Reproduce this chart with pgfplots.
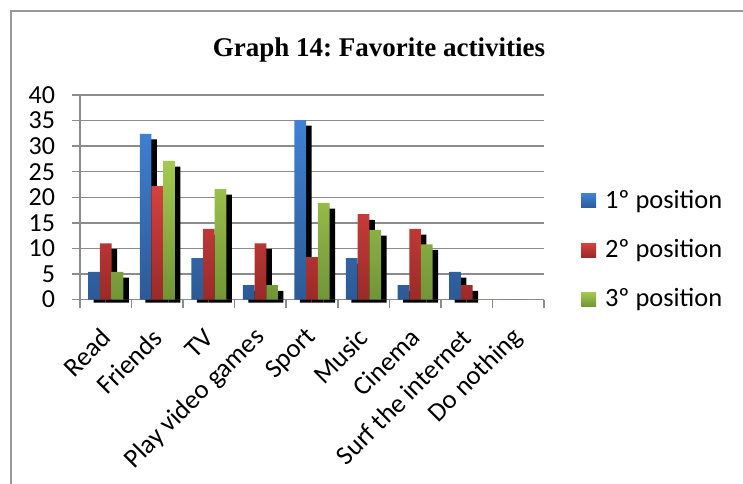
\documentclass[border=0pt]{standalone}
\usepackage{pgfplots}
\pgfplotsset{compat=1.18}
\usepackage{pgfplotstable}
\usepackage{fontspec}
\setmainfont{Carlito}
\newfontfamily\titlefont{Liberation Serif}
\definecolor{bluetop}{HTML}{3F82D4}
\definecolor{bluebot}{HTML}{2C5A96}
\definecolor{redtop}{HTML}{D4423E}
\definecolor{redbot}{HTML}{9A2A28}
\definecolor{greentop}{HTML}{A4CA50}
\definecolor{greenbot}{HTML}{719437}
\definecolor{gridgray}{HTML}{8C8C8C}
\definecolor{framegray}{HTML}{999999}

% values and shadow heights (value - 1.1), strip under the baseline (-0.6)
\pgfplotstableread{
x blue red green bs rs gs bst rst gst
0 5.4 11.0 5.4 4.3 9.9 4.3 -0.6 -0.6 -0.6
1 32.4 22.2 27.1 31.3 21.1 26.0 -0.6 -0.6 -0.6
2 8.1 13.8 21.6 7.0 12.7 20.5 -0.6 -0.6 -0.6
3 2.8 11.0 2.8 1.7 9.9 1.7 -0.6 -0.6 -0.6
4 35.1 8.3 18.9 34.0 7.2 17.8 -0.6 -0.6 -0.6
5 8.1 16.7 13.6 7.0 15.6 12.5 -0.6 -0.6 -0.6
6 2.8 13.8 10.8 1.7 12.7 9.7 -0.6 -0.6 -0.6
7 5.4 2.8 0 4.3 1.7 nan -0.6 -0.6 nan
8 0 0 0 nan nan nan nan nan nan
}\datatable

\begin{document}
\frenchspacing
\begin{tikzpicture}
\useasboundingbox (0pt,0pt) rectangle (371.5pt,241.5pt);
\draw[color=framegray, line width=0.75pt] (5.5pt,-5pt) -- (5.5pt,236pt) -- (380pt,236pt);
\node[anchor=base, font=\titlefont\bfseries\fontsize{13.5}{16}\selectfont] at (189.5pt,213pt) {Graph 14: Favorite activities};
\begin{axis}[
  at={(40pt,91.75pt)}, anchor=south west,
  scale only axis, width=232pt, height=102.25pt,
  ybar, bar width=5.85pt,
  xmin=-0.5, xmax=8.5, ymin=0, ymax=40, enlargelimits=false,
  ytick={0,5,...,40},
  xtick={-0.5,0.5,...,8.5}, xticklabels={},
  extra x ticks={0,1,2,3,4,5,6,7,8},
  extra x tick labels={Read,Friends,TV,Play video games,Sport,Music,Cinema,Surf the internet,Do nothing},
  extra x tick style={major tick length=0pt},
  xticklabel style={yshift=-14.5pt, xshift=2.5pt, rotate=45, anchor=east, font=\fontsize{13.3}{15}\selectfont},
  yticklabel style={font=\fontsize{13}{15}\selectfont, xshift=-5pt},
  /pgf/number format/assume math mode=true,
  axis x line*=bottom, axis y line*=left,
  axis line style={gridgray, line width=0.75pt},
  tick style={gridgray, line width=0.75pt},
  tick align=outside, major tick length=4pt,
  ymajorgrids, major grid style={gridgray, line width=0.75pt},
  clip=false,
  legend style={at={(1.066,0.242)}, anchor=west, draw=none, fill=none,
    row sep=10pt, font=\fontsize{13.2}{15}\selectfont},
  legend cell align=left,
  legend image code/.code={\fill[#1] (0pt,-3.5pt) rectangle (7.5pt,3.5pt); \path (0pt,0pt) -- (10pt,0pt);},
]
\addplot[fill=black, draw=none, bar shift=-3.1pt, forget plot] table[x=x,y=bs]{\datatable};
\addplot[fill=black, draw=none, bar shift=2.75pt, forget plot] table[x=x,y=rs]{\datatable};
\addplot[fill=black, draw=none, bar shift=8.6pt, forget plot] table[x=x,y=gs]{\datatable};
\addplot[fill=black, draw=none, bar shift=-3.1pt, forget plot] table[x=x,y=bst]{\datatable};
\addplot[fill=black, draw=none, bar shift=2.75pt, forget plot] table[x=x,y=rst]{\datatable};
\addplot[fill=black, draw=none, bar shift=8.6pt, forget plot] table[x=x,y=gst]{\datatable};
\addplot[draw=none, top color=bluetop, bottom color=bluebot, bar shift=-5.85pt] table[x=x,y=blue]{\datatable};
\addlegendentry{1º position}
\addplot[draw=none, top color=redtop, bottom color=redbot, bar shift=0pt] table[x=x,y=red]{\datatable};
\addlegendentry{2º position}
\addplot[draw=none, top color=greentop, bottom color=greenbot, bar shift=5.85pt] table[x=x,y=green]{\datatable};
\addlegendentry{3º position}
\end{axis}
\end{tikzpicture}
\end{document}
